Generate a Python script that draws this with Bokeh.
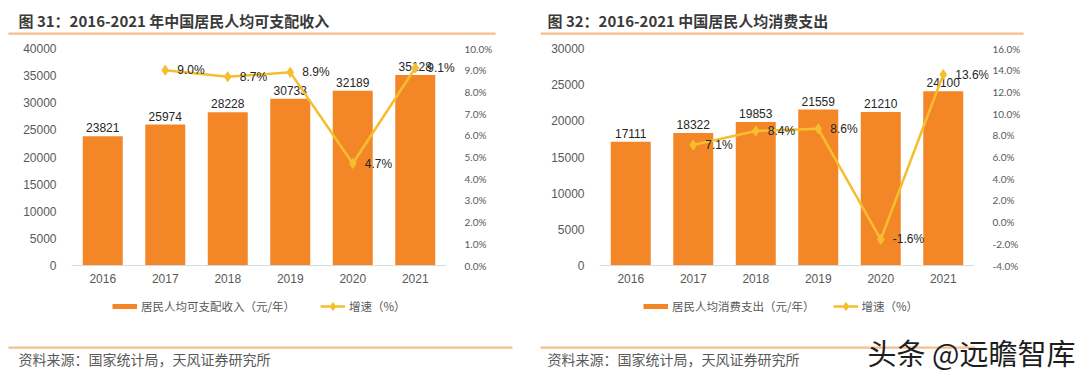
from bokeh.plotting import figure
from bokeh.models import (Range1d, LinearAxis, SingleIntervalTicker, FixedTicker, PrintfTickFormatter,
                          Label, BoxAnnotation, Legend, LegendItem, ColumnDataSource)
from bokeh.layouts import row, column
from bokeh.embed import file_html
from bokeh.resources import INLINE
from bokeh.core.properties import value
from bokeh.core.validation import silence
from bokeh.core.validation.warnings import MISSING_RENDERERS

silence(MISSING_RENDERERS, True)

# ---------------- data ----------------
years = ["2016", "2017", "2018", "2019", "2020", "2021"]
growth_years = ["2017", "2018", "2019", "2020", "2021"]

income = [23821, 25974, 28228, 30733, 32189, 35128]
income_growth = [9.0, 8.7, 8.9, 4.7, 9.1]

spend = [17111, 18322, 19853, 21559, 21210, 24100]
spend_growth = [7.1, 8.4, 8.6, -1.6, 13.6]

title_left = "图 31：2016-2021 年中国居民人均可支配收入"
title_right = "图 32：2016-2021 中国居民人均消费支出"
bar_name_left = "居民人均可支配收入（元/年）"
bar_name_right = "居民人均消费支出（元/年）"
line_name = "增速（%）"
source_text = "资料来源：国家统计局，天风证券研究所"
watermark = "头条 @远瞻智库"

BAR = "#F38728"
LINE = "#F6BE2F"
RULE = "#F5BE8E"
CJK = "Noto Sans CJK SC"
LAT = "Liberation Sans"

PW = 540          # panel width
HEAD_H = 40
CHART_H = 250
FOOT_H = 88
NAN = float("nan")


def base(width, height, x0, y_top, y_bot):
    f = figure(width=width, height=height, x_range=Range1d(x0, x0 + width),
               y_range=Range1d(y_bot, y_top), x_axis_location=None, y_axis_location=None,
               min_border=0, title=None, output_backend="svg", toolbar_location=None, tools="",
               frame_align=False)
    f.outline_line_color = None
    f.xgrid.grid_line_color = None
    f.ygrid.grid_line_color = None
    return f


def panel(title, bar_name, vals, growth, ymax, yint, gmin, gmax, gint,
          panel_x0, frame_left, title_x, legend_x, leg_spacing,
          rule_top_right, rule_bot_right, wm=False):
    # ---------- header ----------
    h = base(PW, HEAD_H, panel_x0, 0, HEAD_H)
    h.add_layout(Label(x=title_x, y=20, text=title, text_font=CJK, text_font_style="bold",
                       text_font_size="15px", text_color="#3A3A3A", text_baseline="middle"))
    h.add_layout(BoxAnnotation(left=panel_x0 + (8 if panel_x0 == 0 else 0), right=rule_top_right,
                               top=32, bottom=34.2, fill_color=RULE, fill_alpha=1, line_color=None))

    # ---------- chart ----------
    FW, FH = 389, 217
    bl = frame_left - panel_x0
    xs = list(range(len(years)))
    gxs = [years.index(y) for y in growth_years]
    p = figure(x_range=Range1d(-0.5, 5.5 + 14 / 62.5), y_range=Range1d(0, ymax), title=None,
               frame_width=FW, frame_height=FH,
               min_border_left=bl, min_border_right=PW - bl - FW,
               min_border_top=8, min_border_bottom=CHART_H - 8 - FH,
               output_backend="svg", toolbar_location=None, tools="", frame_align=False)
    p.outline_line_color = None
    p.xgrid.grid_line_color = None
    p.ygrid.grid_line_color = None

    ya = p.yaxis[0]
    ya.ticker = SingleIntervalTicker(interval=yint)
    ya.axis_line_color = None
    ya.major_tick_line_color = None
    ya.minor_tick_line_color = None
    ya.major_tick_out = 0
    ya.major_label_standoff = 11
    ya.major_label_text_font = LAT
    ya.major_label_text_font_size = "12px"
    ya.major_label_text_color = "#595959"

    xa = p.xaxis[0]
    xa.ticker = FixedTicker(ticks=xs)
    xa.major_label_overrides = {i: y for i, y in zip(xs, years)}
    xa.bounds = (-0.5, 5.5)
    xa.axis_line_color = "#D9D9D9"
    xa.major_tick_line_color = None
    xa.minor_tick_line_color = None
    xa.major_tick_out = 0
    xa.major_label_standoff = 8
    xa.major_label_text_font = LAT
    xa.major_label_text_font_size = "12px"
    xa.major_label_text_color = "#595959"

    p.extra_y_ranges = {"g": Range1d(gmin, gmax)}
    ra = LinearAxis(y_range_name="g", ticker=SingleIntervalTicker(interval=gint),
                    formatter=PrintfTickFormatter(format="%.1f%%"))
    ra.axis_line_color = None
    ra.major_tick_line_color = None
    ra.minor_tick_line_color = None
    ra.major_tick_out = 0
    ra.major_label_standoff = 0
    ra.major_label_text_font = "Lato"
    ra.major_label_text_font_size = "10px"
    ra.major_label_text_color = "#595959"
    p.add_layout(ra, "right")

    bsrc = ColumnDataSource(dict(x=xs, v=vals, t=[str(v) for v in vals]))
    p.vbar(x="x", top="v", width=0.64, source=bsrc, fill_color=BAR, line_color=None)
    p.text(x="x", y="v", text="t", source=bsrc, text_align="center",
           text_baseline="bottom", y_offset=-4, text_font=value(LAT),
           text_font_size="12px", text_color="#262626")

    gsrc = ColumnDataSource(dict(x=gxs, g=growth, t=["%.1f%%" % g for g in growth]))
    p.line(x="x", y="g", source=gsrc, y_range_name="g", line_color=LINE, line_width=2.5)
    p.scatter(x="x", y="g", source=gsrc, y_range_name="g", marker="diamond",
              size=10, fill_color=LINE, line_color=LINE)
    p.text(x="x", y="g", text="t", source=gsrc, y_range_name="g", text_align="left",
           text_baseline="middle", x_offset=12, text_font=value(LAT),
           text_font_size="12px", text_color="#262626")

    # ---------- footer ----------
    top_y = HEAD_H + CHART_H
    f = base(PW, FOOT_H, panel_x0, top_y, top_y + FOOT_H)
    d_bar = f.line(x=[NAN, NAN], y=[NAN, NAN], line_color=BAR, line_width=5)
    d_line = f.line(x=[NAN, NAN], y=[NAN, NAN], line_color=LINE, line_width=2.5)
    d_mark = f.scatter(x=[NAN], y=[NAN], marker="diamond", size=8, fill_color=LINE, line_color=LINE)
    leg = Legend(items=[LegendItem(label=bar_name, renderers=[d_bar]),
                        LegendItem(label=line_name, renderers=[d_line, d_mark])],
                 orientation="horizontal",
                 location=(legend_x - panel_x0, top_y + FOOT_H - 316),
                 glyph_width=25, glyph_height=20, label_height=20,
                 label_standoff=4, spacing=leg_spacing, padding=0, margin=0,
                 label_text_font=CJK, label_text_font_size="11.5px",
                 label_text_color="#595959",
                 background_fill_alpha=0, border_line_color=None)
    f.add_layout(leg, "center")
    f.add_layout(BoxAnnotation(left=panel_x0 + (8 if panel_x0 == 0 else 0), right=rule_bot_right,
                               top=346, bottom=348.2,
                               fill_color=RULE, fill_alpha=1, line_color=None))
    f.add_layout(Label(x=title_x, y=358, text=source_text, text_font=CJK, text_font_size="14px",
                       text_color="#595959", text_baseline="middle"))
    if wm:
        f.add_layout(Label(x=867, y=351, text=watermark, text_font=CJK, text_font_size="29px",
                           text_color="#1E1E1E", text_baseline="middle"))
    return column(h, p, f, spacing=0)


c1 = panel(title_left, bar_name_left, income, income_growth, 40000, 5000, 0, 10, 1,
           0, 71, 18, 112, 25, 495, 512)
c2 = panel(title_right, bar_name_right, spend, spend_growth, 30000, 5000, -4, 16, 2,
           540, 599, 547, 643, 18, 1023, 975, wm=True)

layout = row(c1, c2, spacing=0)
open("out.html", "w").write(file_html(layout, INLINE))
